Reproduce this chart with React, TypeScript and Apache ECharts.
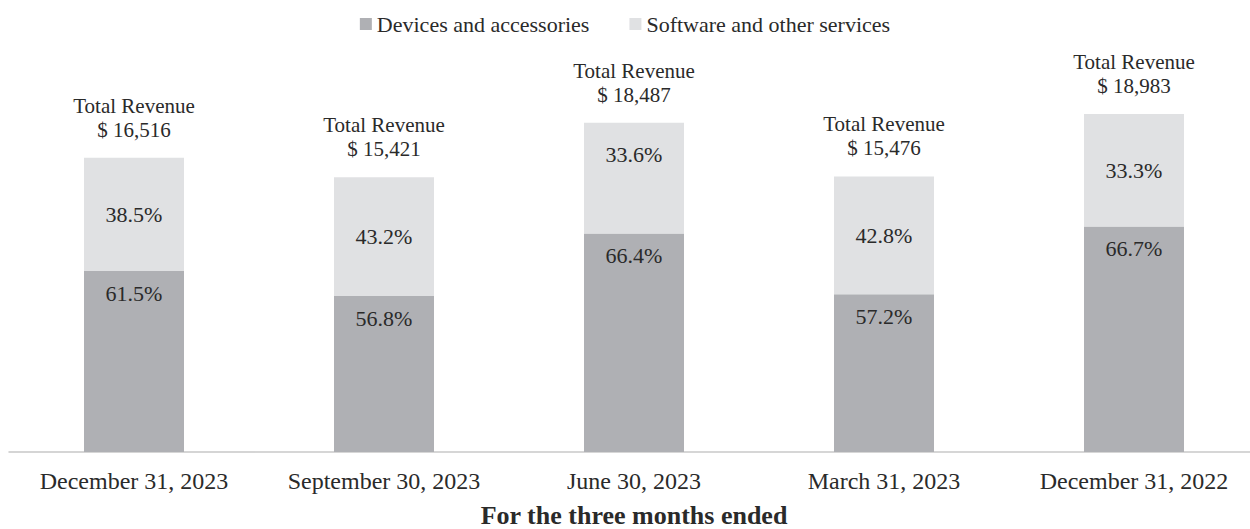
import React, { useEffect, useRef } from "react";
import * as echarts from "echarts";

const categories = ["December 31, 2023", "September 30, 2023", "June 30, 2023", "March 31, 2023", "December 31, 2022"];
const totalRevenue = [16516, 15421, 18487, 15476, 18983];
const devicesPct = [61.5, 56.8, 66.4, 57.2, 66.7];
const softwarePct = [38.5, 43.2, 33.6, 42.8, 33.3];
const seriesNames = ["Devices and accessories", "Software and other services"];

const FONT = "'Liberation Serif', 'Times New Roman', serif";
const TEXT = "#2a2a2a";

export default function App() {
  const ref = useRef<HTMLDivElement>(null);
  useEffect(() => {
    if (!ref.current) return;
    const chart = echarts.init(ref.current, null, { renderer: "svg" });
    const devicesData = totalRevenue.map((t, i) => ({
      value: (t * devicesPct[i]) / 100,
    }));
    const softwareData = totalRevenue.map((t, i) => ({
      value: (t * softwarePct[i]) / 100,
    }));
    chart.setOption({
      animation: false,
      textStyle: { fontFamily: FONT },
      legend: {
        top: 8,
        left: "center",
        itemWidth: 12,
        itemHeight: 12,
        itemGap: 40,
        icon: "rect",
        textStyle: { fontFamily: FONT, fontSize: 22, color: TEXT },
        data: seriesNames,
      },
      grid: {
        left: 9,
        width: 1250,
        top: 52,
        height: 400,
        containLabel: false,
        outerBoundsMode: "none",
      },
      xAxis: {
        type: "category",
        data: categories,
        axisLine: { show: true, lineStyle: { color: "#c8c8c8", width: 1.5 } },
        axisTick: { show: false },
        axisLabel: {
          interval: 0,
          hideOverlap: false,
          fontFamily: FONT,
          fontSize: 24,
          color: TEXT,
          margin: 17,
        },
        name: "For the three months ended",
        nameLocation: "middle",
        nameGap: 50,
        nameTextStyle: { fontFamily: FONT, fontSize: 26, fontWeight: "bold", color: TEXT },
      },
      yAxis: {
        type: "value",
        min: 0,
        max: 22460,
        show: false,
        splitLine: { show: false },
      },
      series: [
        {
          name: seriesNames[0],
          type: "bar",
          stack: "total",
          barWidth: 100,
          itemStyle: { color: "#afb0b4" },
          label: {
            show: true,
            position: "insideTop",
            distance: 11,
            fontFamily: FONT,
            fontSize: 22,
            color: TEXT,
            formatter: (p: any) => devicesPct[p.dataIndex].toFixed(1) + "%",
          },
          data: devicesData,
        },
        {
          name: seriesNames[1],
          type: "bar",
          stack: "total",
          barWidth: 100,
          itemStyle: { color: "#e0e1e3" },
          label: {
            show: true,
            position: "inside",
            fontFamily: FONT,
            fontSize: 22,
            color: TEXT,
            formatter: (p: any) => softwarePct[p.dataIndex].toFixed(1) + "%",
          },
          data: softwareData.map((d, i) =>
            i === 2 ? { ...d, label: { position: "insideTop", distance: 21 } } : d
          ),
        },
        {
          name: "totals",
          type: "bar",
          stack: "total",
          barWidth: 100,
          itemStyle: { color: "transparent" },
          silent: true,
          label: {
            show: true,
            position: "insideBottom",
            distance: 16,
            fontFamily: FONT,
            fontSize: 21,
            lineHeight: 24,
            color: TEXT,
            formatter: (p: any) =>
              "Total Revenue\n$ " + totalRevenue[p.dataIndex].toLocaleString("en-US"),
          },
          data: totalRevenue.map(() => 0),
        },
      ],
    });
    return () => chart.dispose();
  }, []);
  return (
    <div
      ref={ref}
      style={{ position: "absolute", left: 0, top: 0, width: 1250, height: 529, background: "#fff" }}
    />
  );
}
